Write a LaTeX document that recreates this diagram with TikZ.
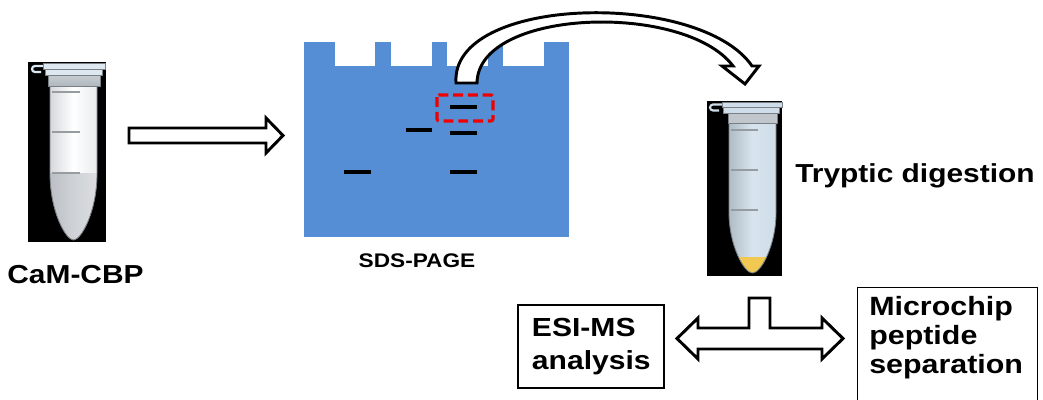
\documentclass[tikz,border=0pt]{standalone}
\usepackage{fontspec}
\setmainfont{Liberation Sans}[FakeStretch=1.15]

\definecolor{gelblue}{RGB}{85,142,213}
\definecolor{tubeedge}{RGB}{120,128,134}
\definecolor{lidpale}{RGB}{222,232,240}
\definecolor{collargray}{RGB}{176,184,190}
\definecolor{liquidgray}{RGB}{186,190,196}
\definecolor{digestblue}{RGB}{206,221,233}
\definecolor{digestyellow}{RGB}{241,200,82}
\definecolor{markgray}{RGB}{150,156,160}
\definecolor{bandred}{RGB}{240,0,0}

\begin{document}
\begin{tikzpicture}[x=0.025cm,y=-0.025cm,
  blockarrow/.style={draw=black,fill=white,line width=2.1pt,line join=miter},
  band/.style={line width=2.8pt},
  gradline/.style={line width=1.7pt,markgray},
  lid/.style={draw=tubeedge,line width=0.6pt,fill=lidpale},
  label/.style={font=\fontsize{18.5}{22}\selectfont\bfseries,inner sep=0pt},
  procbox/.style={draw,line width=0.8pt}]
\clip (0,0) rectangle (1043,400);

% Tube with the sample
\fill[black] (28,62) rectangle (106,242);
\path[draw=tubeedge,line width=0.6pt,left color=liquidgray!60,right color=liquidgray!30,middle color=white,
  path picture={\shade[left color=liquidgray,right color=liquidgray!50,middle color=liquidgray!70] (48,173) rectangle (99,242);}]
  (50,85) -- (50,173) .. controls (50,212) and (66,240) .. (73.5,240) .. controls (81,240) and (97,212) .. (97,173) -- (97,85) -- cycle;
\path[draw=tubeedge,line width=0.6pt,top color=collargray!70,bottom color=collargray] (48,75) rectangle (100,86);
\path[lid] (43,63) rectangle (105,69);
\path[lid] (45,69) rectangle (102,75);
\draw[lidpale,line width=1.6pt] (43,66) -- (35,66) arc[start angle=270,end angle=90,radius=3] -- (41,72);
\foreach \y in {92,132,173} \draw[gradline] (52,\y) -- (80,\y);

% Gel with wells
\path[fill=gelblue] (304,42) rectangle (569,237);
\foreach \a/\b in {335/375,391/432,447/488,503/544} \path[fill=white] (\a,41) rectangle (\b,66);
% Bands
\draw[band] (344,172) -- (371,172);
\draw[band] (406,130) -- (432,130);
\draw[band] (450,107) -- (477,107);
\draw[band] (450,133) -- (477,133);
\draw[band] (450,172) -- (477,172);
\draw[bandred,line width=2.2pt,dash pattern=on 7pt off 3.5pt,rounded corners=1.5pt] (437,95) rectangle (493,121);

% Tube after digestion
\fill[black] (707,101) rectangle (782,276);
\path[draw=tubeedge,line width=0.6pt,left color=digestblue!85!black,right color=digestblue,middle color=digestblue!80,
  path picture={\fill[digestyellow] (726,257) rectangle (779,276);}]
  (729,123) -- (729,213) .. controls (729,245) and (744,273) .. (752.5,273) .. controls (761,273) and (776,245) .. (776,213) -- (776,123) -- cycle;
\path[draw=tubeedge,line width=0.6pt,fill=collargray!80] (728,113) rectangle (777,123);
\path[lid,fill=digestblue] (722,102) rectangle (782,107.5);
\path[lid,fill=digestblue] (723,107.5) rectangle (779,113);
\draw[digestblue,line width=1.5pt] (722,104.5) -- (713,104.5) arc[start angle=270,end angle=90,radius=3] -- (719,110.5);
\foreach \y in {130,170,210} \draw[gradline] (731,\y) -- (758,\y);

% Writing
\node[label,anchor=base] (sample) at (75.5,283) {CaM-CBP};
\node[label,font=\fontsize{14}{16}\selectfont\bfseries,anchor=base] (gelname) at (417,267) {SDS-PAGE};
\node[label,anchor=base west] (digest) at (795,183) {Tryptic digestion};
\node[procbox,label,font=\fontsize{18.6}{23.7}\selectfont\bfseries,align=left,
  inner xsep=0.35cm,text width=2.95cm,minimum height=2.075cm] (esims) at (591,346.5) {ESI-MS\\analysis};
\node[procbox,anchor=north west,minimum width=4.5cm,minimum height=3.5cm] (chipbox) at (857,287) {};
\node[label,font=\fontsize{18.8}{20.5}\selectfont\bfseries,align=left,anchor=base west] (chip) at (869,373) {Microchip\\peptide\\separation};

% Arrows
\coordinate (toGel) at (129,135.5);
\draw[blockarrow] (toGel) ++(0,-7.5) -- ++(137,0) -- ++(0,-10) -- ++(17,17.5) -- ++(-17,17.5) -- ++(0,-10) -- ++(-137,0) -- cycle;

\coordinate (cutBand) at (466.5,83);
\draw[blockarrow] (cutBand) ++(10.5,0) -- ++(-21,0)
  .. controls (450,-5) and (700,-10) .. (752,66) -- (759,66) -- (745,84) -- (722,66) -- (733,66)
  .. controls (685,2) and (478,8) .. cycle;

\coordinate (split) at (759.5,298);
\draw[blockarrow] (split) ++(-10.5,0) -- ++(21,0) -- ++(0,30) -- ++(52,0) -- ++(0,-10) -- ++(21,20.5) -- ++(-21,20.5)
  -- ++(0,-10) -- ++(-124,0) -- ++(0,10) -- ++(-21,-20.5) -- ++(21,-20.5) -- ++(0,10) -- ++(51,0) -- cycle;
\end{tikzpicture}
\end{document}
